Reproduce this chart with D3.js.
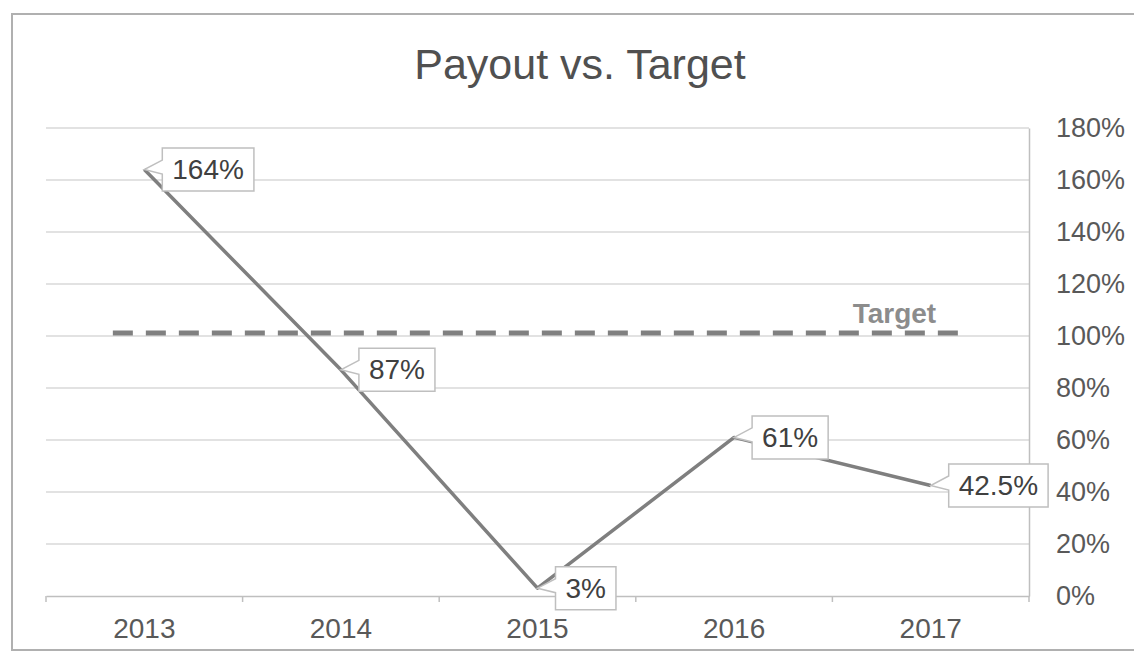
<!DOCTYPE html>
<html>
<head>
<meta charset="utf-8">
<script src="https://cdn.jsdelivr.net/npm/d3@7"></script>
<style>
  body { margin: 0; background: #fff; }
  text { font-family: "Liberation Sans", Arial, sans-serif; }
</style>
</head>
<body>
<script>
// data
const years = ["2013", "2014", "2015", "2016", "2017"],
  payout = [164, 87, 3, 61, 42.5],
  payoutLabels = ["164%", "87%", "3%", "61%", "42.5%"],
  targetValue = 100,
  targetSpan = [2012.84, 2017.15],
  yTicks = [0, 20, 40, 60, 80, 100, 120, 140, 160, 180];

const W = 1134, H = 660;
const plot = { left: 46, right: 1029, top: 128, bottom: 596 };

let svg = d3.select("body").append("svg")
  .attr("width", W)
  .attr("height", H);

// outer frame
svg.append("rect")
  .attr("x", 12).attr("y", 14)
  .attr("width", W).attr("height", 636)
  .attr("fill", "#fff")
  .attr("stroke", "#b0b0b0")
  .attr("stroke-width", 2);

// scales
let x = d3.scaleBand().domain(years).range([plot.left, plot.right]).padding(0),
  xc = d => x(d) + x.bandwidth() / 2,
  xLin = d3.scaleLinear().domain([2012.5, 2017.5]).range([plot.left, plot.right]),
  y = d3.scaleLinear().domain([0, 180]).range([plot.bottom, plot.top]);

// title
svg.append("text")
  .attr("x", 580).attr("y", 79)
  .attr("text-anchor", "middle")
  .attr("font-size", 43)
  .attr("fill", "#505050")
  .text("Payout vs. Target");

// gridlines
svg.append("g")
  .selectAll("line")
  .data(yTicks.filter(d => d > 0))
  .join("line")
  .attr("x1", plot.left).attr("x2", plot.right)
  .attr("y1", d => y(d)).attr("y2", d => y(d))
  .attr("stroke", "#d9d9d9")
  .attr("stroke-width", 1.5);

// right axis
let yAxis = svg.append("g")
  .attr("transform", "translate(" + plot.right + ",0)")
  .call(d3.axisRight(y).tickValues(yTicks).tickFormat(d => d + "%").tickSize(0).tickPadding(27));
yAxis.select(".domain").attr("stroke", "#bfbfbf").attr("stroke-width", 1.5);
yAxis.selectAll("text")
  .attr("font-size", 27)
  .attr("fill", "#595959")
  .attr("font-family", "Liberation Sans, Arial, sans-serif");

// bottom axis
let xAxis = svg.append("g")
  .attr("transform", "translate(0," + plot.bottom + ")")
  .call(d3.axisBottom(x).tickSize(0).tickPadding(22));
xAxis.select(".domain").attr("stroke", "#bfbfbf").attr("stroke-width", 1.5);
xAxis.selectAll("text")
  .attr("font-size", 28)
  .attr("fill", "#595959")
  .attr("font-family", "Liberation Sans, Arial, sans-serif");
// tick marks between categories
svg.append("g")
  .selectAll("line")
  .data(years.concat(["end"]))
  .join("line")
  .attr("x1", (d, i) => plot.left + i * x.bandwidth())
  .attr("x2", (d, i) => plot.left + i * x.bandwidth())
  .attr("y1", plot.bottom).attr("y2", plot.bottom + 6)
  .attr("stroke", "#bfbfbf")
  .attr("stroke-width", 1.5);

// target line
svg.append("line")
  .attr("x1", xLin(targetSpan[0])).attr("x2", xLin(targetSpan[1]))
  .attr("y1", y(targetValue) - 3).attr("y2", y(targetValue) - 3)
  .attr("stroke", "#808080")
  .attr("stroke-width", 5)
  .attr("stroke-dasharray", "20 13");
svg.append("text")
  .attr("x", xLin(targetSpan[1]) - 24).attr("y", y(targetValue) - 13)
  .attr("text-anchor", "end")
  .attr("font-size", 28)
  .attr("font-weight", "bold")
  .attr("fill", "#8c8c8c")
  .text("Target");

// payout line
let pts = years.map((d, i) => ({ year: d, value: payout[i], label: payoutLabels[i] }));
let valueline = d3.line().x(d => xc(d.year)).y(d => y(d.value));
svg.append("path")
  .datum(pts)
  .attr("fill", "none")
  .attr("stroke", "#7f7f7f")
  .attr("stroke-width", 3.5)
  .attr("stroke-linejoin", "round")
  .attr("d", valueline);

// callout labels
pts.forEach(d => {
  let px = xc(d.year), py = y(d.value),
    g = svg.append("g"),
    txt = g.append("text")
      .attr("font-size", 28)
      .attr("fill", "#404040")
      .attr("dominant-baseline", "central")
      .text(d.label),
    w = txt.node().getComputedTextLength() + 20,
    h = 43,
    left = px + 18, top = py - h / 2;

  let p = d3.path();
  p.moveTo(left, top);
  p.lineTo(left + w, top);
  p.lineTo(left + w, top + h);
  p.lineTo(left, top + h);
  p.lineTo(left, top + 26);
  p.lineTo(px, py);
  p.lineTo(left, top + 12);
  p.closePath();

  g.insert("path", "text")
    .attr("d", p.toString())
    .attr("fill", "#fff")
    .attr("stroke", "#bfbfbf")
    .attr("stroke-width", 1.5);
  txt.attr("x", left + 10).attr("y", py);
});
</script>
</body>
</html>
